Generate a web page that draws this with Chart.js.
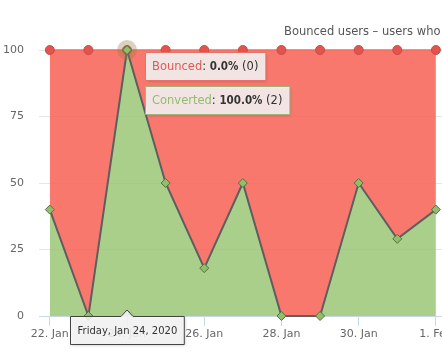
<!DOCTYPE html>
<html>
<head>
<meta charset="utf-8">
<script src="https://cdn.jsdelivr.net/npm/chart.js@4/dist/chart.umd.min.js"></script>
<style>
  html, body { margin: 0; padding: 0; background: #fff; overflow: hidden; width: 442px; height: 364px; }
  #wrap { position: relative; width: 480px; height: 364px; }
  #title { position: absolute; left: 284px; top: 24px; font: 11.5px "DejaVu Sans", sans-serif; color: #555; white-space: nowrap; }
</style>
</head>
<body>
<div id="wrap">
  <canvas id="chart" width="480" height="364" style="width:480px;height:364px;"></canvas>
  <div id="title">Bounced users – users who did not convert</div>
</div>
<script>
// Daily data, 22 Jan – 1 Feb
const dayLabels = ['22. Jan', '23. Jan', '24. Jan', '25. Jan', '26. Jan', '27. Jan', '28. Jan', '29. Jan', '30. Jan', '31. Jan', '1. Feb'];
const convertedPct = [40, 0, 100, 50, 18, 50, 0, 0, 50, 29, 40];
const bouncedPct = [60, 100, 0, 50, 82, 50, 100, 100, 50, 71, 60];
const yTicks = [0, 25, 50, 75, 100];
const xTickIdx = [0, 2, 4, 6, 8, 10];

// hovered point (tooltip)
const hoverIndex = 2;
const hoverHeader = 'Friday, Jan 24, 2020';
const hoverCounts = { bounced: 0, converted: 2 };

const FONT = '"DejaVu Sans", sans-serif';
const BOLD_FONT = '"DejaVu Sans Condensed", "Liberation Sans", sans-serif';

const toPoints = (arr) => arr.map((v, i) => ({ x: i, y: v }));

function drawBox(ctx, x, y, w, h, border, arrowX) {
  ctx.save();
  ctx.shadowColor = 'rgba(0,0,0,0.22)';
  ctx.shadowOffsetX = 1;
  ctx.shadowOffsetY = 1;
  ctx.shadowBlur = 3;
  ctx.beginPath();
  ctx.moveTo(x + 0.5, y + 0.5);
  if (arrowX != null) {
    ctx.lineTo(arrowX - 6, y + 0.5);
    ctx.lineTo(arrowX, y - 6);
    ctx.lineTo(arrowX + 6, y + 0.5);
  }
  ctx.lineTo(x + w - 0.5, y + 0.5);
  ctx.lineTo(x + w - 0.5, y + h - 0.5);
  ctx.lineTo(x + 0.5, y + h - 0.5);
  ctx.closePath();
  ctx.fillStyle = 'rgba(247,247,247,0.88)';
  ctx.fill();
  ctx.shadowColor = 'transparent';
  ctx.strokeStyle = border;
  ctx.lineWidth = 1;
  ctx.stroke();
  ctx.restore();
}

function setFont(ctx, p, size) {
  ctx.font = p.bold ? 'bold ' + size + 'px ' + BOLD_FONT : size + 'px ' + FONT;
}

function drawParts(ctx, x, y, parts, size) {
  let cx = x;
  parts.forEach((p) => {
    setFont(ctx, p, size);
    ctx.fillStyle = p.color;
    ctx.fillText(p.text, cx, y);
    cx += ctx.measureText(p.text).width;
  });
}

function measureParts(ctx, parts, size) {
  let w = 0;
  parts.forEach((p) => {
    setFont(ctx, p, size);
    w += ctx.measureText(p.text).width;
  });
  return w;
}

const hoverPlugin = {
  id: 'hoverTip',
  afterDatasetsDraw(chart) {
    const ctx = chart.ctx;
    const pt = chart.getDatasetMeta(0).data[hoverIndex];
    ctx.save();
    ctx.beginPath();
    ctx.arc(pt.x, pt.y, 10, 0, Math.PI * 2);
    ctx.fillStyle = 'rgba(150,125,70,0.35)';
    ctx.fill();
    ctx.restore();
    pt.draw(ctx, chart.chartArea);
  },
  afterDraw(chart) {
    const ctx = chart.ctx;
    const pt = chart.getDatasetMeta(0).data[hoverIndex];
    ctx.save();
    ctx.textBaseline = 'middle';

    const rows = [
      { border: '#e8706a', parts: [
        { text: 'Bounced', color: '#e05a52' },
        { text: ': ', color: '#333' },
        { text: bouncedPct[hoverIndex].toFixed(1) + '%', color: '#333', bold: true },
        { text: ' (' + hoverCounts.bounced + ')', color: '#333' }
      ] },
      { border: '#9db47a', parts: [
        { text: 'Converted', color: '#8fbf6a' },
        { text: ': ', color: '#333' },
        { text: convertedPct[hoverIndex].toFixed(1) + '%', color: '#333', bold: true },
        { text: ' (' + hoverCounts.converted + ')', color: '#333' }
      ] }
    ];
    let top = pt.y + 2;
    rows.forEach((r) => {
      const w = measureParts(ctx, r.parts, 11.5) + 15;
      const left = Math.round(pt.x + 18);
      drawBox(ctx, left, top, w, 29, r.border);
      drawParts(ctx, left + 7, top + 15, r.parts, 11.5);
      top += 34;
    });

    // header below the x axis
    ctx.font = '10px ' + FONT;
    const hw = ctx.measureText(hoverHeader).width + 15;
    const hx = Math.round(pt.x - hw / 2);
    const hy = chart.chartArea.bottom;
    drawBox(ctx, hx, hy, hw, 29, '#444', pt.x);
    ctx.fillStyle = '#333';
    ctx.fillText(hoverHeader, hx + 7.5, hy + 15);
    ctx.restore();
  }
};

new Chart(document.getElementById('chart'), {
  type: 'line',
  data: {
    datasets: [
      {
        label: 'Converted',
        data: toPoints(convertedPct),
        fill: 'origin',
        backgroundColor: 'rgba(150,196,112,0.82)',
        borderColor: '#5e5e5e',
        borderWidth: 2,
        tension: 0,
        pointStyle: 'rectRot',
        pointRadius: 4.5,
        pointBackgroundColor: '#8fbf6a',
        pointBorderColor: '#55703f',
        pointBorderWidth: 1,
        clip: false
      },
      {
        label: 'Bounced',
        data: toPoints(bouncedPct),
        fill: '-1',
        backgroundColor: 'rgba(248,96,84,0.85)',
        borderColor: '#f26d62',
        borderWidth: 1.5,
        tension: 0,
        pointStyle: 'circle',
        pointRadius: 4.5,
        pointBackgroundColor: '#e3554c',
        pointBorderColor: '#c94a42',
        pointBorderWidth: 1,
        clip: false
      }
    ]
  },
  options: {
    responsive: false,
    animation: false,
    events: [],
    layout: { padding: { top: 50, right: 1, left: 0, bottom: 0 } },
    plugins: {
      legend: { display: false },
      tooltip: { enabled: false },
      title: { display: false }
    },
    scales: {
      x: {
        type: 'linear',
        min: -0.28,
        max: 11,
        afterBuildTicks: (s) => { s.ticks = xTickIdx.map((v) => ({ value: v })); },
        afterFit: (s) => { s.height = 48; },
        ticks: {
          callback: (v) => dayLabels[v] ?? '',
          color: '#666',
          font: { family: FONT, size: 11 },
          padding: 2,
          maxRotation: 0,
          autoSkip: false
        },
        grid: { drawOnChartArea: false, drawTicks: true, tickLength: 10, color: '#ccd6eb' },
        border: { color: '#ccd6eb' }
      },
      y: {
        min: 0,
        max: 100,
        stacked: true,
        afterBuildTicks: (s) => { s.ticks = yTicks.map((v) => ({ value: v })); },
        afterFit: (s) => { s.width = 39; },
        ticks: {
          color: '#666',
          font: { family: FONT, size: 11 },
          padding: 15
        },
        grid: { color: '#e6e6e6', drawTicks: false },
        border: { display: false }
      }
    }
  },
  plugins: [hoverPlugin]
});
</script>
</body>
</html>
